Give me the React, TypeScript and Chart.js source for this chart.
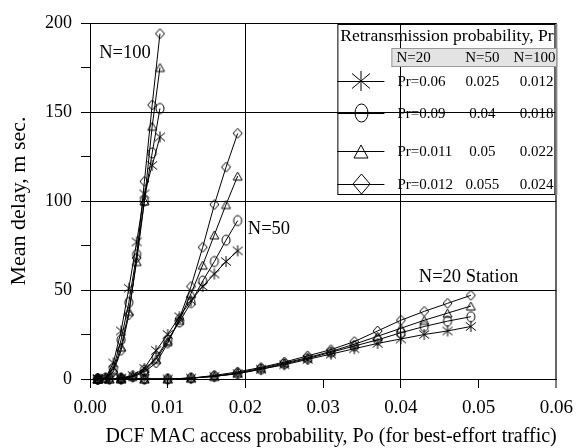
import React, { useEffect, useRef } from 'react';
import { Chart, registerables } from 'chart.js';

Chart.register(...registerables);

// ---------- data ----------
const xN100 = [0.001, 0.002, 0.003, 0.004, 0.005, 0.006, 0.007, 0.008, 0.009];
const n100Star = [0, 0.5, 9, 27, 51, 77, 104, 120, 136];
const n100Circle = [0, 0.5, 6, 22, 43, 70, 100, 127, 152];
const n100Triangle = [0, 0.5, 5, 18, 38, 66, 100, 142, 175];
const n100Diamond = [0, 0.5, 4, 16, 36, 68, 111, 154, 194];

const xN50 = [0.001, 0.0025, 0.004, 0.0055, 0.007, 0.0085, 0.01, 0.0115, 0.013, 0.0145, 0.016, 0.0175, 0.019];
const n50Star = [0, 0, 0.5, 2, 6, 16, 25, 35, 44, 52, 59, 66, 72];
const n50Circle = [0, 0, 0.5, 1.5, 5, 12, 22, 32, 43, 55, 66, 78, 89];
const n50Triangle = [0, 0, 0.5, 1.5, 4.5, 11, 21, 33, 48, 64, 81, 98, 114];
const n50Diamond = [0, 0, 0.5, 1, 4, 9, 20, 34, 52, 74, 98, 119, 138];

const xN20 = [0.001, 0.004, 0.007, 0.01, 0.013, 0.016, 0.019, 0.022, 0.025, 0.028, 0.031, 0.034, 0.037, 0.04, 0.043, 0.046, 0.049];
const n20Star = [0, 0, 0, 0, 0.5, 1.5, 3, 5.5, 8, 11, 14, 17, 20, 22.5, 25, 27, 29.5];
const n20Circle = [0, 0, 0, 0, 0.5, 1.5, 3, 5.5, 8.5, 11.5, 15, 18.5, 22, 26, 29.5, 32.5, 35];
const n20Triangle = [0, 0, 0, 0, 0.5, 1.5, 3.5, 6, 9, 12, 15.5, 19.5, 24, 28.5, 33, 37, 41];
const n20Diamond = [0, 0, 0, 0, 0.5, 2, 4, 6.5, 9.5, 13, 16.5, 21, 27, 33, 38, 42.5, 47];

const xTickLabels = ['0.00', '0.01', '0.02', '0.03', '0.04', '0.05', '0.06'];
const yTickLabels = ['0', '50', '100', '150', '200'];

const legendTitle = 'Retransmission probability, Pr';
const legendHeaders = ['N=20', 'N=50', 'N=100'];
const legendN20 = ['Pr=0.06', 'Pr=0.09', 'Pr=0.011', 'Pr=0.012'];
const legendN50 = ['0.025', '0.04', '0.05', '0.055'];
const legendN100 = ['0.012', '0.018', '0.022', '0.024'];
const markerKinds = ['star', 'circle', 'triangle', 'diamond'];

const groupLabels = ['N=100', 'N=50', 'N=20 Station'];
const groupLabelX = [0.0045, 0.0203, 0.0423];
const groupLabelY = [183, 84, 57];
const groupLabelAlign = ['center', 'left', 'left'];

const xTitle = 'DCF MAC access probability, Po (for best-effort traffic)';
const yTitle = 'Mean delay, m sec.';

const FONT = "'Liberation Serif', 'Times New Roman', serif";

// ---------- marker images ----------
function makeMarker(kind: string, w: number, h: number): HTMLCanvasElement {
  const pad = 2;
  const c = document.createElement('canvas');
  c.width = Math.ceil(w + pad * 2);
  c.height = Math.ceil(h + pad * 2);
  const ctx = c.getContext('2d')!;
  ctx.strokeStyle = '#000';
  ctx.lineWidth = 1;
  const cx = c.width / 2, cy = c.height / 2, rx = w / 2, ry = h / 2;
  ctx.beginPath();
  if (kind === 'star') {
    ctx.moveTo(cx, cy - ry); ctx.lineTo(cx, cy + ry);
    ctx.moveTo(cx - rx, cy - ry * 0.75); ctx.lineTo(cx + rx, cy + ry * 0.75);
    ctx.moveTo(cx + rx, cy - ry * 0.75); ctx.lineTo(cx - rx, cy + ry * 0.75);
  } else if (kind === 'circle') {
    ctx.ellipse(cx, cy, rx, ry, 0, 0, Math.PI * 2);
  } else if (kind === 'triangle') {
    ctx.moveTo(cx, cy - ry); ctx.lineTo(cx + rx, cy + ry); ctx.lineTo(cx - rx, cy + ry); ctx.closePath();
  } else {
    ctx.moveTo(cx, cy - ry); ctx.lineTo(cx + rx, cy); ctx.lineTo(cx, cy + ry); ctx.lineTo(cx - rx, cy); ctx.closePath();
  }
  ctx.stroke();
  return c;
}

const plotMarkerSize: Record<string, [number, number]> = {
  star: [10, 11], circle: [8, 10], triangle: [9, 8], diamond: [9, 10],
};
const legendMarkerSize: Record<string, [number, number]> = {
  star: [18, 20], circle: [13, 18], triangle: [14, 13], diamond: [17, 20],
};

function pts(xs: number[], ys: number[]) {
  return xs.map((x, i) => ({ x, y: ys[i] }));
}

let legendMarkers: HTMLCanvasElement[] = [];

const legendPlugin = {
  id: 'tableLegend',
  afterDraw(chart: any) {
    const { ctx, chartArea } = chart;
    const L = chartArea.right - 219;
    const R = chartArea.right - 2;
    const T = chartArea.top + 1;
    const B = T + 170;
    ctx.save();
    ctx.strokeStyle = '#000';
    ctx.lineWidth = 1;
    ctx.strokeRect(L + 0.5, T + 0.5, R - L, B - T);
    ctx.strokeStyle = '#888';
    ctx.lineWidth = 2;
    ctx.beginPath(); ctx.moveTo(R + 2, T); ctx.lineTo(R + 2, B + 1); ctx.stroke();
    ctx.fillStyle = '#000';
    ctx.font = `17.6px ${FONT}`;
    ctx.textAlign = 'center';
    ctx.textBaseline = 'middle';
    ctx.fillText(legendTitle, (L + R) / 2 + 1, T + 12);
    ctx.fillStyle = '#e3e3e3';
    ctx.fillRect(L + 54, T + 24, R - L - 52, 18);
    ctx.strokeStyle = '#999';
    ctx.lineWidth = 1;
    ctx.strokeRect(L + 54.5, T + 24.5, R - L - 52, 18);
    ctx.fillStyle = '#000';
    ctx.font = `15px ${FONT}`;
    ctx.textAlign = 'left';
    ctx.fillText(legendHeaders[0], L + 59, T + 34);
    ctx.textAlign = 'center';
    ctx.fillText(legendHeaders[1], L + 145, T + 34);
    ctx.textAlign = 'right';
    ctx.fillText(legendHeaders[2], R + 1, T + 34);
    const rowY = [57, 89, 127, 160];
    for (let i = 0; i < 4; i++) {
      const y = T + rowY[i];
      ctx.strokeStyle = '#000';
      ctx.lineWidth = 1;
      ctx.beginPath(); ctx.moveTo(L, y + 0.5); ctx.lineTo(L + 47, y + 0.5); ctx.stroke();
      const img = legendMarkers[i];
      if (img) ctx.drawImage(img, Math.round(L + 24 - img.width / 2), Math.round(y - img.height / 2));
      ctx.fillStyle = '#000';
      ctx.textAlign = 'left';
      ctx.fillText(legendN20[i], L + 60, y + 1);
      ctx.textAlign = 'center';
      ctx.fillText(legendN50[i], L + 145, y + 1);
      ctx.textAlign = 'right';
      ctx.fillText(legendN100[i], R - 1, y + 1);
    }
    ctx.restore();
  },
};

const textPlugin = {
  id: 'groupLabels',
  afterDatasetsDraw(chart: any) {
    const { ctx, scales, chartArea } = chart;
    ctx.save();
    ctx.fillStyle = '#000';
    ctx.font = `18.5px ${FONT}`;
    ctx.textBaseline = 'middle';
    groupLabels.forEach((t, i) => {
      ctx.textAlign = groupLabelAlign[i] as CanvasTextAlign;
      ctx.fillText(t, scales.x.getPixelForValue(groupLabelX[i]), scales.y.getPixelForValue(groupLabelY[i]));
    });
    // x axis title
    ctx.font = `20px ${FONT}`;
    ctx.textAlign = 'center';
    ctx.fillText(xTitle, (chartArea.left + chartArea.right) / 2 + 8, chart.height - 11);
    ctx.restore();
  },
};

export default function App() {
  const ref = useRef<HTMLCanvasElement>(null);
  useEffect(() => {
    const plotMarkers = markerKinds.map((k) => makeMarker(k, plotMarkerSize[k][0], plotMarkerSize[k][1]));
    legendMarkers = markerKinds.map((k) => makeMarker(k, legendMarkerSize[k][0], legendMarkerSize[k][1]));
    const groups = [
      { xs: xN100, ys: [n100Star, n100Circle, n100Triangle, n100Diamond] },
      { xs: xN50, ys: [n50Star, n50Circle, n50Triangle, n50Diamond] },
      { xs: xN20, ys: [n20Star, n20Circle, n20Triangle, n20Diamond] },
    ];
    const datasets: any[] = [];
    groups.forEach((g) => {
      g.ys.forEach((ys, i) => {
        datasets.push({
          data: pts(g.xs, ys),
          borderColor: '#000',
          borderWidth: 1,
          pointStyle: plotMarkers[i],
          pointRadius: 5,
          fill: false,
          tension: 0,
          clip: false,
        });
      });
    });
    const chart = new Chart(ref.current!, {
      type: 'line',
      data: { datasets },
      options: {
        animation: false,
        responsive: false,
        devicePixelRatio: 1,
        layout: { padding: { top: 23, right: 20, bottom: 0, left: 0 } },
        plugins: { legend: { display: false }, tooltip: { enabled: false } },
        scales: {
          x: {
            type: 'linear',
            min: 0,
            max: 0.06,
            ticks: {
              stepSize: 0.01,
              autoSkip: false,
              maxRotation: 0,
              color: '#000',
              font: { family: FONT, size: 19 },
              padding: 9,
              callback: (v: any) => xTickLabels[Math.round(Number(v) * 100)] ?? '',
            },
            grid: {
              color: (c: any) => {
                const v = c.tick ? c.tick.value : null;
                if (v == null) return 'rgba(0,0,0,0)';
                const k = Math.round(v * 100);
                if (k === 6) return '#666';
                return k % 2 === 0 ? '#000' : 'rgba(0,0,0,0)';
              },
              lineWidth: (c: any) => (c.tick && Math.round(c.tick.value * 100) === 6 ? 2 : 1),
              tickColor: '#000',
              tickWidth: 1,
              tickLength: 9,
            },
            border: { display: true, color: '#000', width: 1 },
            title: { display: false },
            afterFit: (s: any) => { s.height = 69; },
          },
          y: {
            type: 'linear',
            min: 0,
            max: 200,
            ticks: {
              stepSize: 25,
              autoSkip: false,
              color: '#000',
              font: { family: FONT, size: 18 },
              padding: 9,
              callback: (v: any) => (Number(v) % 50 === 0 ? yTickLabels[Number(v) / 50] : ''),
            },
            grid: {
              color: (c: any) => {
                const v = c.tick ? c.tick.value : null;
                if (v == null) return 'rgba(0,0,0,0)';
                return v % 50 === 0 ? '#000' : 'rgba(0,0,0,0)';
              },
              tickColor: '#000',
              tickLength: 9,
              lineWidth: 1,
            },
            border: { display: true, color: '#000', width: 1 },
            title: { display: true, text: yTitle, color: '#000', font: { family: FONT, size: 22 }, padding: { top: 6, bottom: 0 } },
            afterFit: (s: any) => { s.width = 90; },
          },
        },
      },
      plugins: [textPlugin, legendPlugin],
    });
    return () => chart.destroy();
  }, []);
  return (
    <div style={{ position: 'absolute', left: 0, top: 0, width: 582, height: 448, background: '#fff' }}>
      <canvas ref={ref} width={582} height={448} style={{ width: 582, height: 448 }} />
    </div>
  );
}
